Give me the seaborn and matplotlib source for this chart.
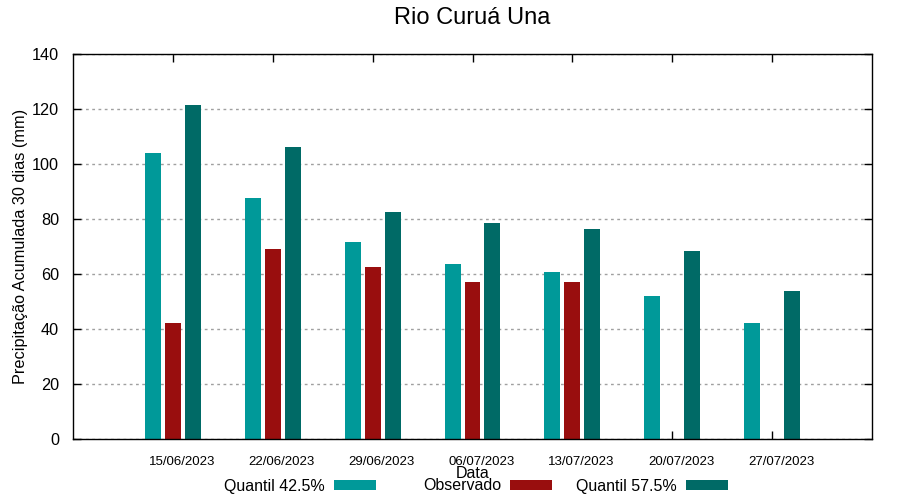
import numpy as np
import pandas as pd
import matplotlib
matplotlib.use('Agg')
import matplotlib.pyplot as plt
import matplotlib.transforms as mtransforms
from matplotlib.patches import Patch
import seaborn as sns

#----------------- data ------------------
dates = ['15/06/2023', '22/06/2023', '29/06/2023', '06/07/2023',
         '13/07/2023', '20/07/2023', '27/07/2023']
q425 = [104.0, 87.6, 71.6, 63.6, 60.7, 52.0, 42.2]
observado = [42.2, 69.1, 62.5, 57.1, 57.1, np.nan, np.nan]
q575 = [121.5, 106.2, 82.5, 78.5, 76.4, 68.4, 53.8]

series = ['Quantil 42.5%', 'Observado', 'Quantil 57.5%']
colors = ['#009999', '#990e0e', '#006a66']

df = pd.DataFrame({'Data': dates, series[0]: q425, series[1]: observado, series[2]: q575})
df = df.melt(id_vars='Data', var_name='serie', value_name='valor').dropna()

#----------------- plot ------------------
sns.set_style('white')
plt.rcParams['font.family'] = ['Liberation Sans', 'DejaVu Sans']
for k in ['text.color', 'axes.labelcolor', 'xtick.color', 'ytick.color']:
    plt.rcParams[k] = 'black'

fig = plt.figure(figsize=(9, 5), dpi=100)
ax = fig.add_axes([73/900, 61/500, 799/900, 385/500])

sns.barplot(data=df, x='Data', y='valor', hue='serie', order=dates, hue_order=series,
            palette=colors, width=0.6, gap=0.2, errorbar=None, ax=ax,
            saturation=1, legend=False, linewidth=0)

ax.set_xlim(-1, len(dates))
ax.set_ylim(0, 140)
ax.set_yticks(np.arange(0, 141, 20))
ax.set_axisbelow(True)
ax.yaxis.grid(True, linestyle=(0, (2, 2.5)), color='#a0a0a0', linewidth=1)
ax.xaxis.grid(False)

for s in ax.spines.values():
    s.set_visible(True)
    s.set_color('black')
    s.set_linewidth(1)

ax.tick_params(axis='both', direction='in', length=6, width=1, color='black',
               top=True, right=True, bottom=True, left=True)
ax.tick_params(axis='y', labelsize=11.7, pad=10)
ax.tick_params(axis='x', labelsize=9.5, pad=12)

# gnuplot-like shift of the date labels
offset = mtransforms.ScaledTranslation(9/100, 0, fig.dpi_scale_trans)
for lbl in ax.get_xticklabels():
    lbl.set_transform(lbl.get_transform() + offset)

ax.set_ylabel('Precipitação Acumulada 30 dias (mm)', fontsize=11.7)
ax.yaxis.set_label_coords(-0.056, 0.5)
ax.set_xlabel('Data', fontsize=11.5)
ax.xaxis.set_label_coords(0.5, -0.07)

fig.suptitle('Rio Curuá Una', fontsize=17, x=472.5/900, y=0.964, va='center')

# legend: one entry per box, text before the sample
sample_right = [376, 552, 728]
for lab, c, xr in zip(series, colors, sample_right):
    fig.legend([Patch(facecolor=c, edgecolor='none')], [lab], loc='center right',
               bbox_to_anchor=(xr/900, 0.028), frameon=False, markerfirst=False,
               fontsize=11.5, handlelength=2.6, handleheight=0.55, handletextpad=0.6,
               borderpad=0, borderaxespad=0)

plt.savefig('out.png', dpi=100)
